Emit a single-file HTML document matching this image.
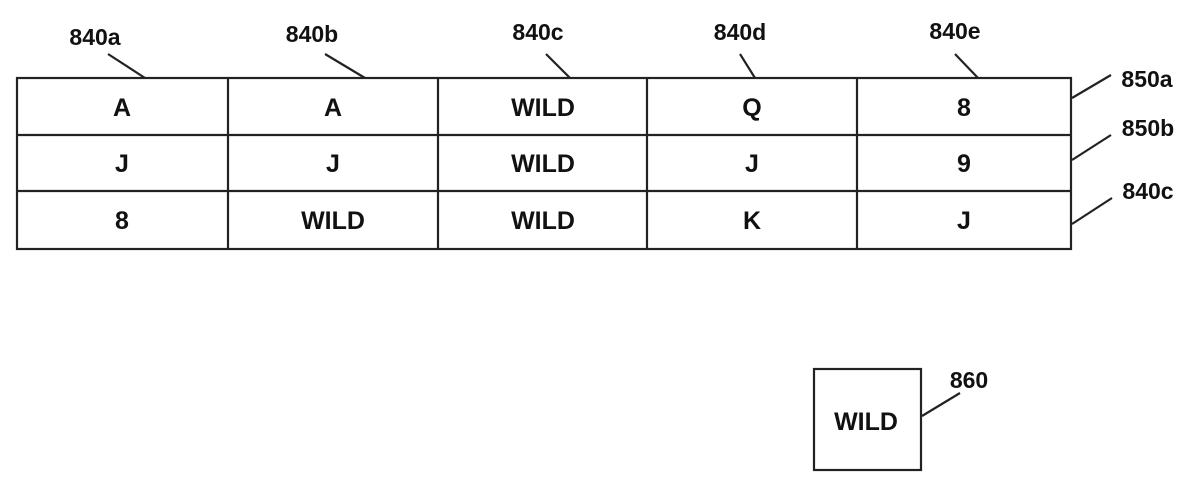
<!DOCTYPE html>
<html><head><style>
body{margin:0;background:#fff;}
svg{display:block;}
text{font-family:"Liberation Sans",Arial,sans-serif;font-weight:bold;fill:#111;}
</style></head><body>
<svg width="1200" height="487" viewBox="0 0 1200 487">
<g stroke="#222" stroke-width="2.2" fill="none">
<rect x="17" y="78" width="1054" height="171"/>
<line x1="17" y1="135" x2="1071" y2="135"/>
<line x1="17" y1="191" x2="1071" y2="191"/>
<line x1="228" y1="78" x2="228" y2="249"/>
<line x1="438" y1="78" x2="438" y2="249"/>
<line x1="647" y1="78" x2="647" y2="249"/>
<line x1="857" y1="78" x2="857" y2="249"/>
<rect x="814" y="369" width="107" height="101"/>
<line x1="108" y1="54" x2="145" y2="78"/>
<line x1="325" y1="54" x2="365" y2="78"/>
<line x1="546" y1="54" x2="570" y2="78"/>
<line x1="740" y1="54" x2="755" y2="78"/>
<line x1="955" y1="54" x2="978" y2="78"/>
<line x1="1072" y1="98" x2="1111" y2="75"/>
<line x1="1072" y1="160" x2="1111" y2="135"/>
<line x1="1072" y1="224" x2="1112" y2="198"/>
<line x1="922" y1="416" x2="960" y2="393"/>
</g>
<g font-size="25" text-anchor="middle">
<text x="122" y="116">A</text><text x="333" y="116">A</text><text x="543" y="116">WILD</text><text x="752" y="116">Q</text><text x="964" y="116">8</text>
<text x="122" y="172">J</text><text x="333" y="172">J</text><text x="543" y="172">WILD</text><text x="752" y="172">J</text><text x="964" y="172">9</text>
<text x="122" y="229">8</text><text x="333" y="229">WILD</text><text x="543" y="229">WILD</text><text x="752" y="229">K</text><text x="964" y="229">J</text>
<text x="866" y="430">WILD</text>
</g>
<g font-size="23" text-anchor="middle">
<text x="95" y="45">840a</text><text x="312" y="42">840b</text><text x="538" y="40">840c</text><text x="740" y="40">840d</text><text x="955" y="39">840e</text>
<text x="1147" y="87">850a</text><text x="1148" y="136">850b</text><text x="1148" y="199">840c</text>
<text x="969" y="388">860</text>
</g>
</svg>
</body></html>
